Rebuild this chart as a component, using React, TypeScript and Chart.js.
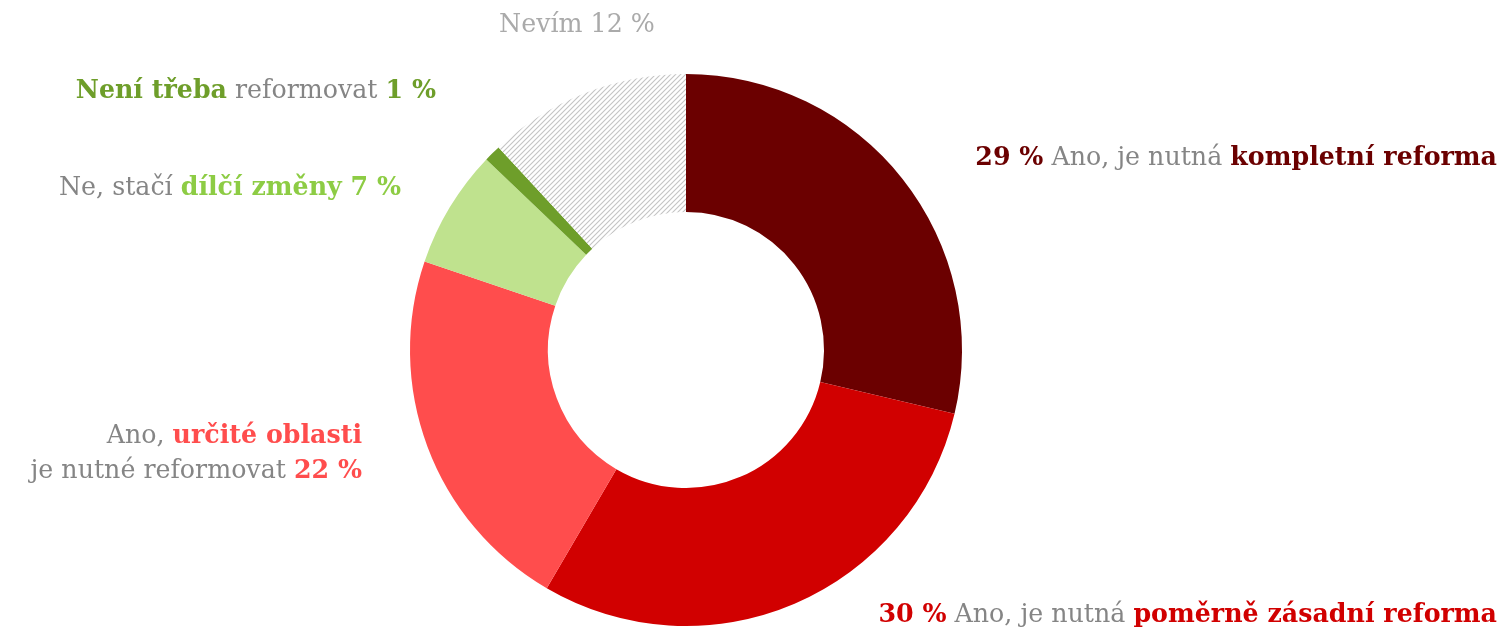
import React, { useEffect, useRef } from "react";
import { Chart, registerables } from "chart.js";

Chart.register(...registerables);

const categories = [
  "Ano, je nutná kompletní reforma",
  "Ano, je nutná poměrně zásadní reforma",
  "Ano, určité oblasti je nutné reformovat",
  "Ne, stačí dílčí změny",
  "Není třeba reformovat",
  "Nevím",
];
const values = [29, 30, 22, 7, 1, 12];
const sliceColors = ["#6b0000", "#d10000", "#ff4d4d", "#bfe28e", "#6e9e2a", "hatch"];

const GRAY = "#858585";
const FONT = "'DejaVu Serif', serif";
const SIZE = 25.3;

type Run = { t: string; b?: boolean; c: string };
type Label = { x: number; y: number; align: "left" | "right" | "center"; lines: Run[][] };

const labels: Label[] = [
  {
    x: 1497, y: 165, align: "right",
    lines: [[
      { t: `${values[0]} %`, b: true, c: "#6b0000" },
      { t: " Ano, je nutná ", c: GRAY },
      { t: "kompletní reforma", b: true, c: "#6b0000" },
    ]],
  },
  {
    x: 1497, y: 622, align: "right",
    lines: [[
      { t: `${values[1]} %`, b: true, c: "#d10000" },
      { t: " Ano, je nutná ", c: GRAY },
      { t: "poměrně zásadní reforma", b: true, c: "#d10000" },
    ]],
  },
  {
    x: 362, y: 443, align: "right",
    lines: [
      [
        { t: "Ano, ", c: GRAY },
        { t: "určité oblasti", b: true, c: "#ff4d4d" },
      ],
      [
        { t: "je nutné reformovat ", c: GRAY },
        { t: `${values[2]} %`, b: true, c: "#ff4d4d" },
      ],
    ],
  },
  {
    x: 401, y: 195, align: "right",
    lines: [[
      { t: "Ne, stačí ", c: GRAY },
      { t: `dílčí změny ${values[3]} %`, b: true, c: "#8dcc44" },
    ]],
  },
  {
    x: 436, y: 98, align: "right",
    lines: [[
      { t: "Není třeba", b: true, c: "#6e9e2a" },
      { t: " reformovat ", c: GRAY },
      { t: `${values[4]} %`, b: true, c: "#6e9e2a" },
    ]],
  },
  {
    x: 577, y: 32, align: "center",
    lines: [[{ t: `Nevím ${values[5]} %`, c: "#aaaaaa" }]],
  },
];

function makeHatch(ctx: CanvasRenderingContext2D): CanvasPattern | string {
  const c = document.createElement("canvas");
  const s = 5;
  c.width = s;
  c.height = s;
  const p = c.getContext("2d");
  if (!p) return "#dddddd";
  p.fillStyle = "#ffffff";
  p.fillRect(0, 0, s, s);
  p.strokeStyle = "#c4c4c4";
  p.lineWidth = 1.1;
  p.beginPath();
  p.moveTo(0, s);
  p.lineTo(s, 0);
  p.moveTo(-s / 2, s / 2);
  p.lineTo(s / 2, -s / 2);
  p.moveTo(s / 2, s * 1.5);
  p.lineTo(s * 1.5, s / 2);
  p.stroke();
  return ctx.createPattern(c, "repeat") || "#dddddd";
}

const labelPlugin = {
  id: "richLabels",
  afterDraw(chart: any) {
    const ctx: CanvasRenderingContext2D = chart.ctx;
    ctx.save();
    ctx.textBaseline = "alphabetic";
    ctx.textAlign = "left";
    const lineH = 35;
    labels.forEach((lab) => {
      lab.lines.forEach((line, li) => {
        const widths = line.map((r) => {
          ctx.font = `${r.b ? "bold " : ""}${SIZE}px ${FONT}`;
          return ctx.measureText(r.t).width;
        });
        const total = widths.reduce((a, b) => a + b, 0);
        let x = lab.align === "left" ? lab.x : lab.align === "right" ? lab.x - total : lab.x - total / 2;
        const y = lab.y + li * lineH;
        line.forEach((r, i) => {
          ctx.font = `${r.b ? "bold " : ""}${SIZE}px ${FONT}`;
          ctx.fillStyle = r.c;
          ctx.fillText(r.t, x, y);
          x += widths[i];
        });
      });
    });
    ctx.restore();
  },
};

export default function App() {
  const ref = useRef<HTMLCanvasElement>(null);
  useEffect(() => {
    const canvas = ref.current;
    if (!canvas) return;
    const ctx = canvas.getContext("2d")!;
    const hatch = makeHatch(ctx);
    const chart = new Chart(canvas, {
      type: "doughnut",
      data: {
        labels: categories,
        datasets: [
          {
            data: values,
            backgroundColor: sliceColors.map((c) => (c === "hatch" ? hatch : c)) as any,
            borderWidth: 0,
          },
        ],
      },
      options: {
        responsive: false,
        animation: false,
        cutout: "50%",
        layout: { padding: { left: 410, right: 540, top: 74, bottom: 2 } },
        plugins: {
          legend: { display: false },
          tooltip: { enabled: false },
        },
      },
      plugins: [labelPlugin],
    });
    return () => chart.destroy();
  }, []);
  return (
    <div style={{ position: "fixed", left: 0, top: 0, width: 1502, height: 628, background: "#fff" }}>
      <canvas ref={ref} width={1502} height={628} style={{ width: 1502, height: 628, display: "block" }} />
    </div>
  );
}
